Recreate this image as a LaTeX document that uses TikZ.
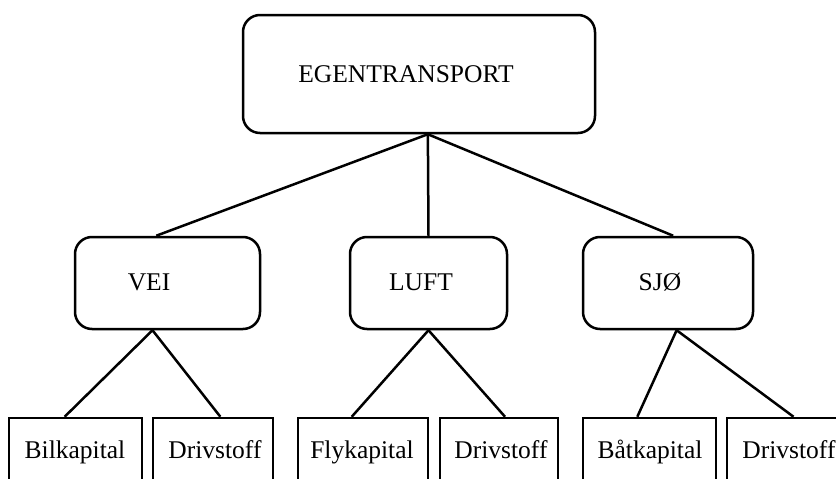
\documentclass[tikz,border=0pt]{standalone}
\usepackage{fontspec}
\setmainfont{Liberation Serif}
\usetikzlibrary{calc}
\begin{document}
\begin{tikzpicture}[x=1pt,y=-1pt,
  rbox/.style={draw=black, line width=2.5pt, rounded corners=17pt, minimum width=#1, inner sep=0pt},
  lbox/.style={draw=black, line width=2.5pt, minimum width=#1, minimum height=82pt, inner sep=0pt},
  lbl/.style={anchor=base, inner sep=0pt, font=\fontsize{25.5}{30}\selectfont},
  conn/.style={line width=2.5pt}]
\useasboundingbox (0,0) rectangle (836,479);
\clip (0,0) rectangle (836,479);
% boxes
\node[rbox=352pt, minimum height=118pt] (top) at (419,74) {};
\node[rbox=185pt, minimum height=92pt] (vei) at (167.5,283) {};
\node[rbox=157pt, minimum height=92pt] (luft) at (428.5,283) {};
\node[rbox=170pt, minimum height=92pt] (sjo) at (668,283) {};
\node[lbox=133pt] (bil) at (75.5,459) {};
\node[lbox=120pt] (dr1) at (213,459) {};
\node[lbox=130pt] (fly) at (363,459) {};
\node[lbox=118pt] (dr2) at (499,459) {};
\node[lbox=133pt] (bat) at (649.5,459) {};
\node[lbox=123pt] (dr3) at (788.5,459) {};
% texts
\node[lbl] (ttop) at (406,82) {EGENTRANSPORT};
\node[lbl] (tvei) at (149,290) {VEI};
\node[lbl] (tluft) at (421,290) {LUFT};
\node[lbl] (tsjo) at (660,290) {SJØ};
\node[lbl] (tbil) at (75,458) {Bilkapital};
\node[lbl] (tdr1) at (215,458) {Drivstoff};
\node[lbl] (tfly) at (362,458) {Flykapital};
\node[lbl] (tdr2) at (501,458) {Drivstoff};
\node[lbl] (tbat) at (650,458) {Båtkapital};
\node[lbl] (tdr3) at (789,458) {Drivstoff};
% connectors
\coordinate (apex) at ($(top.south west)!0.525!(top.south east)$);
\draw[conn] (apex) -- ($(vei.north west)!0.44!(vei.north east)$);
\draw[conn] (apex) -- ($(luft.north west)!0.5!(luft.north east)$);
\draw[conn] (apex) -- ($(sjo.north west)!0.53!(sjo.north east)$);
\coordinate (veib) at ($(vei.south west)!0.42!(vei.south east)$);
\draw[conn] (veib) -- ($(bil.north west)!0.42!(bil.north east)$);
\draw[conn] (veib) -- ($(dr1.north west)!0.56!(dr1.north east)$);
\coordinate (luftb) at ($(luft.south west)!0.5!(luft.south east)$);
\draw[conn] (luftb) -- ($(fly.north west)!0.415!(fly.north east)$);
\draw[conn] (luftb) -- ($(dr2.north west)!0.55!(dr2.north east)$);
\coordinate (sjob) at ($(sjo.south west)!0.55!(sjo.south east)$);
\draw[conn] (sjob) -- ($(bat.north west)!0.41!(bat.north east)$);
\draw[conn] (sjob) -- ($(dr3.north west)!0.54!(dr3.north east)$);
\end{tikzpicture}
\end{document}
